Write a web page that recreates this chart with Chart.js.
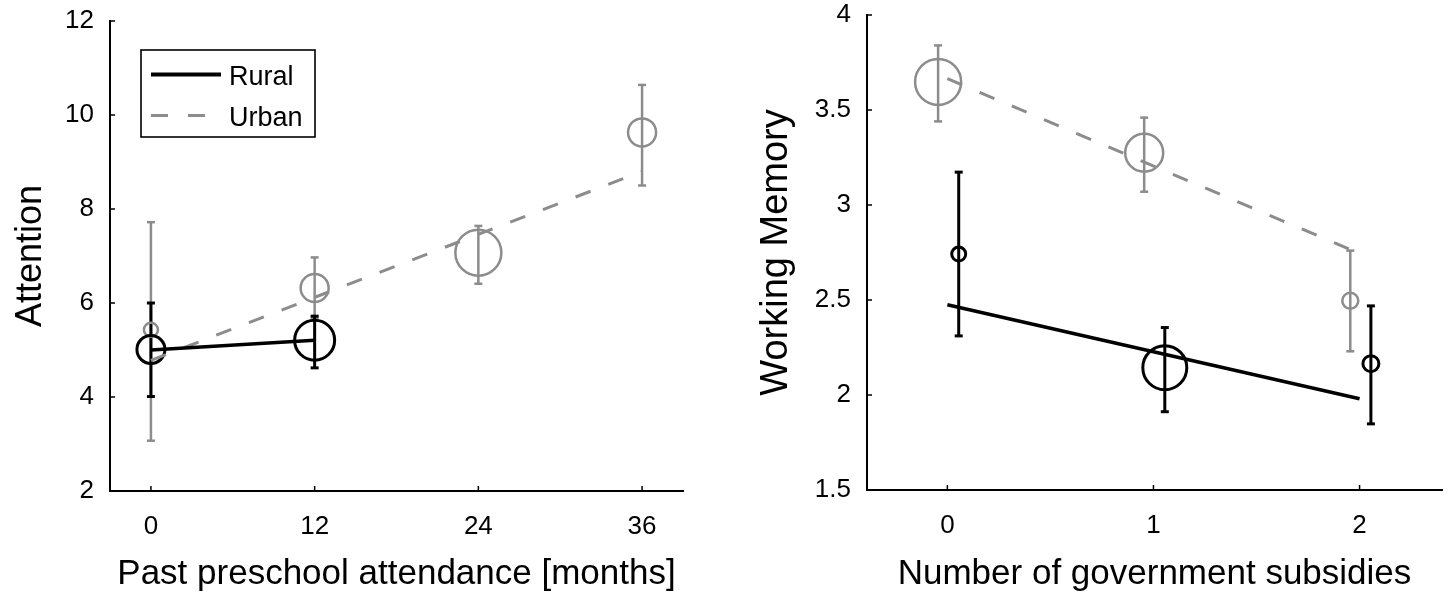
<!DOCTYPE html>
<html>
<head>
<meta charset="utf-8">
<script src="https://cdn.jsdelivr.net/npm/chart.js@4.4.1/dist/chart.umd.min.js"></script>
<style>
  html, body { margin: 0; padding: 0; background: #fff; }
  #wrap { position: relative; width: 1450px; height: 614px; overflow: hidden; }
  canvas { position: absolute; top: 0; }
  #c1 { left: 0; }
  #c2 { left: 725px; }
</style>
</head>
<body>
<div id="wrap">
  <canvas id="c1" width="725" height="614"></canvas>
  <canvas id="c2" width="725" height="614"></canvas>
</div>
<script>
// ---------------- DATA ----------------
// Left panel: Attention vs past preschool attendance [months]
const monthTicks = [0, 12, 24, 36];
const attentionTicks = [2, 4, 6, 8, 10, 12];
const urbanMonths = [0, 12, 24, 36];
const urbanAttnMean = [5.43, 6.32, 7.07, 9.63];
const urbanAttnLow = [3.07, 5.68, 6.41, 8.50];
const urbanAttnHigh = [7.72, 6.97, 7.64, 10.64];
const ruralMonths = [0, 12];
const ruralAttnMean = [5.01, 5.21];
const ruralAttnLow = [4.01, 4.62];
const ruralAttnHigh = [6.00, 5.72];
const urbanAttnFitX = [0, 36];
const urbanAttnFitY = [4.78, 8.80];
const ruralAttnFitX = [0, 12];
const ruralAttnFitY = [5.00, 5.21];

// Right panel: Working memory vs number of government subsidies
const subsidyTicks = [0, 1, 2];
const memoryTicks = [1.5, 2, 2.5, 3, 3.5, 4];
const urbanSubsidies = [-0.045, 0.955, 1.955];
const urbanWmMean = [3.648, 3.275, 2.496];
const urbanWmLow = [3.44, 3.07, 2.23];
const urbanWmHigh = [3.84, 3.46, 2.76];
const ruralSubsidies = [0.055, 1.055, 2.055];
const ruralWmMean = [2.742, 2.144, 2.165];
const ruralWmLow = [2.311, 1.912, 1.848];
const ruralWmHigh = [3.173, 2.355, 2.469];
const urbanWmFitX = [0, 2];
const urbanWmFitY = [3.665, 2.745];
const ruralWmFitX = [0, 2];
const ruralWmFitY = [2.475, 1.98];

const seriesNames = ['Rural', 'Urban'];

// ---------------- STYLE ----------------
const BLACK = '#000000';
const GREY = '#8c8c8c';
const FONT = "'Liberation Sans', Arial, Helvetica, sans-serif";
const urbanAttnMarkerR = [7, 14, 23, 14];
const ruralAttnMarkerR = [14, 20];
const urbanWmMarkerR = [23, 19, 8];
const ruralWmMarkerR = [7, 22, 8];
const DASH = [16, 19];

function pts(xs, ys) { return xs.map((x, i) => ({ x: x, y: ys[i] })); }

function errorBarSets(xs, lo, hi, color, width) {
  return xs.map((x, i) => ({
    data: [{ x: x, y: lo[i] }, { x: x, y: hi[i] }],
    showLine: true,
    borderColor: color,
    borderWidth: width,
    pointStyle: 'line',
    pointRadius: 4,
    pointHoverRadius: 0,
    pointBorderWidth: width,
    pointBorderColor: color,
    pointBackgroundColor: color,
    order: 3
  }));
}

function lineSet(xs, ys, color, width, dash) {
  return {
    data: pts(xs, ys),
    showLine: true,
    borderColor: color,
    borderWidth: width,
    borderDash: dash || [],
    pointRadius: 0,
    pointHoverRadius: 0,
    order: 1
  };
}

function markerSet(xs, ys, radii, color, width) {
  return {
    data: pts(xs, ys),
    showLine: false,
    pointStyle: 'circle',
    pointRadius: radii,
    pointHoverRadius: 0,
    pointBorderColor: color,
    pointBorderWidth: width,
    pointBackgroundColor: 'rgba(0,0,0,0)',
    order: 2
  };
}

// inward tick marks drawn from the scales
const inwardTicks = {
  id: 'inwardTicks',
  afterDraw(chart) {
    const { ctx, chartArea, scales } = chart;
    ctx.save();
    ctx.strokeStyle = BLACK;
    ctx.lineWidth = 1.5;
    ctx.beginPath();
    scales.x.ticks.forEach(t => {
      const px = scales.x.getPixelForValue(t.value);
      ctx.moveTo(px, chartArea.bottom);
      ctx.lineTo(px, chartArea.bottom - 5);
    });
    scales.y.ticks.forEach(t => {
      const py = scales.y.getPixelForValue(t.value);
      ctx.moveTo(chartArea.left, py);
      ctx.lineTo(chartArea.left + 5, py);
    });
    ctx.stroke();
    ctx.restore();
  }
};

// legend box inside the left plot
const insetLegend = {
  id: 'insetLegend',
  afterDraw(chart) {
    const ctx = chart.ctx;
    const bx = 141, by = 50, bw = 174, bh = 87;
    ctx.save();
    ctx.fillStyle = '#fff';
    ctx.fillRect(bx, by, bw, bh);
    ctx.strokeStyle = BLACK;
    ctx.lineWidth = 1.6;
    ctx.strokeRect(bx, by, bw, bh);
    ctx.beginPath();
    ctx.strokeStyle = BLACK;
    ctx.lineWidth = 4;
    ctx.moveTo(151, 74.5);
    ctx.lineTo(221, 74.5);
    ctx.stroke();
    ctx.beginPath();
    ctx.strokeStyle = GREY;
    ctx.lineWidth = 3;
    ctx.setLineDash([17, 20]);
    ctx.moveTo(151, 115.5);
    ctx.lineTo(221, 115.5);
    ctx.stroke();
    ctx.setLineDash([]);
    ctx.fillStyle = BLACK;
    ctx.font = '27px ' + FONT;
    ctx.textAlign = 'left';
    ctx.textBaseline = 'alphabetic';
    ctx.fillText(seriesNames[0], 229, 85);
    ctx.fillText(seriesNames[1], 229, 126);
    ctx.restore();
  }
};

function makeScales(xMin, xMax, xTicks, yMin, yMax, yTicks, xTitle, yTitle, yWidth, xHeight, yTitleSize) {
  const noPad = s => { s.paddingTop = 0; s.paddingBottom = 0; s.paddingLeft = 0; s.paddingRight = 0; };
  return {
    x: {
      type: 'linear',
      min: xMin, max: xMax,
      afterBuildTicks: s => { s.ticks = xTicks.map(v => ({ value: v })); },
      afterFit: s => { s.height = xHeight; noPad(s); },
      grid: { display: false, drawTicks: false },
      border: { display: true, color: BLACK, width: 2 },
      ticks: { color: BLACK, font: { family: FONT, size: 26 }, padding: 20, maxRotation: 0, autoSkip: false,
               callback: v => String(v) },
      title: { display: true, text: xTitle, color: BLACK, font: { family: FONT, size: 35 }, padding: { top: 4, bottom: 4 } }
    },
    y: {
      type: 'linear',
      min: yMin, max: yMax,
      afterBuildTicks: s => { s.ticks = yTicks.map(v => ({ value: v })); },
      afterFit: s => { s.width = yWidth; noPad(s); },
      grid: { display: false, drawTicks: false },
      border: { display: true, color: BLACK, width: 2 },
      ticks: { color: BLACK, font: { family: FONT, size: 26 }, padding: 16, autoSkip: false,
               callback: v => String(v) },
      title: { display: true, text: yTitle, color: BLACK, font: { family: FONT, size: yTitleSize }, padding: { top: 4, bottom: 4 } }
    }
  };
}

const common = {
  responsive: false,
  animation: false,
  events: [],
  devicePixelRatio: 1,
  plugins: { legend: { display: false }, tooltip: { enabled: false } }
};

// ---------------- LEFT CHART ----------------
new Chart(document.getElementById('c1'), {
  type: 'scatter',
  data: {
    datasets: [
      lineSet(ruralAttnFitX, ruralAttnFitY, BLACK, 3.5),
      lineSet(urbanAttnFitX, urbanAttnFitY, GREY, 3, DASH),
      markerSet(ruralMonths, ruralAttnMean, ruralAttnMarkerR, BLACK, 3),
      markerSet(urbanMonths, urbanAttnMean, urbanAttnMarkerR, GREY, 2.5),
      ...errorBarSets(ruralMonths, ruralAttnLow, ruralAttnHigh, BLACK, 3),
      ...errorBarSets(urbanMonths, urbanAttnLow, urbanAttnHigh, GREY, 2.5)
    ]
  },
  options: Object.assign({}, common, {
    layout: { autoPadding: false, padding: { left: 5, right: 42, top: 21, bottom: 15 } },
    scales: makeScales(-3, 39, monthTicks, 2, 12, attentionTicks,
      'Past preschool attendance [months]', 'Attention', 105, 108, 36)
  }),
  plugins: [inwardTicks, insetLegend]
});

// ---------------- RIGHT CHART ----------------
new Chart(document.getElementById('c2'), {
  type: 'scatter',
  data: {
    datasets: [
      lineSet(ruralWmFitX, ruralWmFitY, BLACK, 3.5),
      lineSet(urbanWmFitX, urbanWmFitY, GREY, 3, DASH),
      markerSet(ruralSubsidies, ruralWmMean, ruralWmMarkerR, BLACK, 3),
      markerSet(urbanSubsidies, urbanWmMean, urbanWmMarkerR, GREY, 2.5),
      ...errorBarSets(ruralSubsidies, ruralWmLow, ruralWmHigh, BLACK, 3),
      ...errorBarSets(urbanSubsidies, urbanWmLow, urbanWmHigh, GREY, 2.5)
    ]
  },
  options: Object.assign({}, common, {
    layout: { autoPadding: false, padding: { left: 25, right: 8, top: 15, bottom: 15 } },
    scales: makeScales(-0.39, 2.4, subsidyTicks, 1.5, 4, memoryTicks,
      'Number of government subsidies', 'Working Memory', 117, 109, 38)
  }),
  plugins: [inwardTicks]
});
</script>
</body>
</html>
